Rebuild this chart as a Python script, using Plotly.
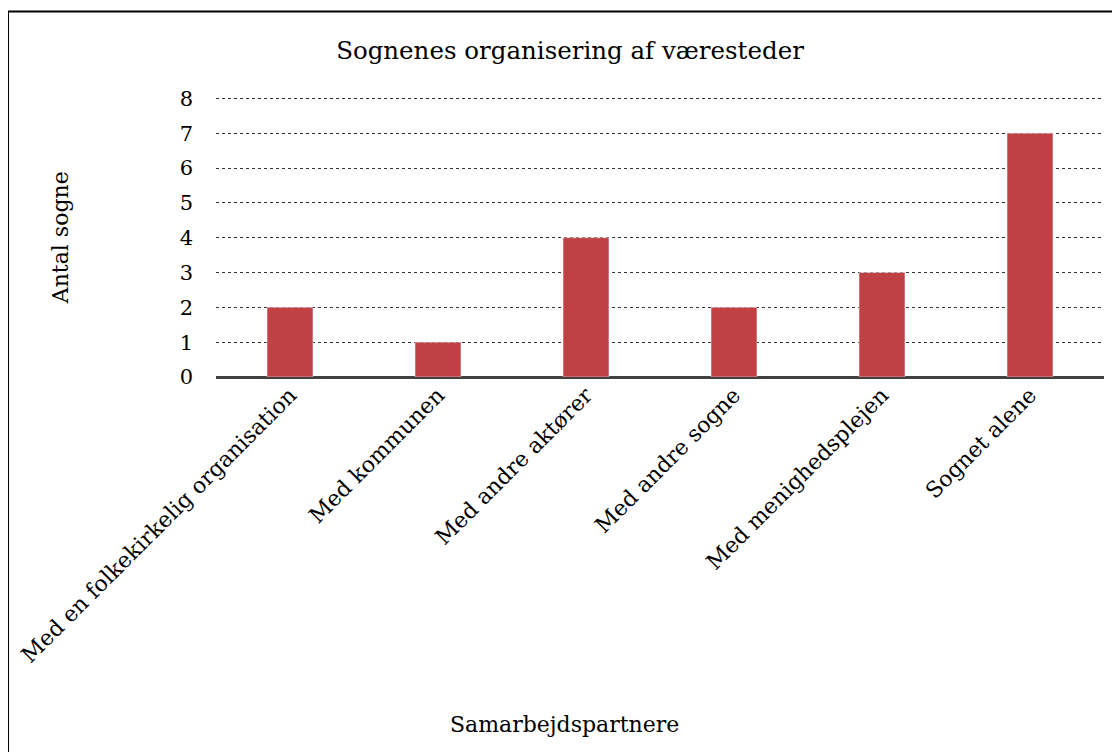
import plotly.graph_objects as go

categories = ["Med en folkekirkelig organisation", "Med kommunen", "Med andre aktører",
              "Med andre sogne", "Med menighedsplejen", "Sognet alene"]
values = [2, 1, 4, 2, 3, 7]
y_ticks = [0, 1, 2, 3, 4, 5, 6, 7, 8]

OFF = 8  # page body margin
W, H = 1120 - OFF, 752 - OFF
YMAX = 8.04
plot_left, plot_right, y0_px, y8_px = 216, 1104, 377, 98
ph = (y0_px - y8_px) * YMAX / 8
L = plot_left - OFF
R = W - (plot_right - OFF)
B = H - (y0_px - OFF)
T = H - B - ph
pw = W - L - R

def px(x):
    return (x - OFF - L) / pw

def py(y):
    return (y0_px - y) / ph

FONT = "DejaVu Serif"

fig = go.Figure(go.Bar(x=categories, y=values, marker_color="#C04043", width=0.31))

fig.update_layout(
    width=W, height=H,
    margin=dict(l=L, r=R, t=T, b=B, autoexpand=False),
    paper_bgcolor="white", plot_bgcolor="white",
    font=dict(family=FONT, size=21, color="#000000"),
    showlegend=False,
    title=dict(text="Sognenes organisering af væresteder", font=dict(family=FONT, size=24.5, color="#000"),
               xref="container", yref="container", x=(570 - OFF) / W, y=1 - (50 - OFF) / H,
               xanchor="center", yanchor="middle"),
    xaxis=dict(tickangle=-45, showgrid=False, showline=False, ticks="",
               tickfont=dict(family=FONT, size=22, color="#000")),
    yaxis=dict(range=[0, YMAX], tickvals=y_ticks, showgrid=True, gridcolor="#333333",
               griddash="dot", gridwidth=1.3, zeroline=True, zerolinecolor="#404040",
               zerolinewidth=3, ticks="", ticklabelstandoff=22,
               tickfont=dict(family=FONT, size=21, color="#000")),
    annotations=[
        dict(text="Samarbejdspartnere", xref="paper", yref="paper", x=px(564), y=py(725),
             showarrow=False, xanchor="center", yanchor="middle",
             font=dict(family=FONT, size=22, color="#000")),
        dict(text="Antal sogne", xref="paper", yref="paper", x=px(60), y=py(238),
             showarrow=False, xanchor="center", yanchor="middle", textangle=-90,
             font=dict(family=FONT, size=22, color="#000")),
    ],
    shapes=[
        dict(type="rect", xref="paper", yref="paper", x0=px(8), x1=px(1130), y0=py(765), y1=py(11),
             line=dict(color="black", width=2), fillcolor="rgba(0,0,0,0)", layer="below"),
    ],
)

fig.write_html("out.html")
